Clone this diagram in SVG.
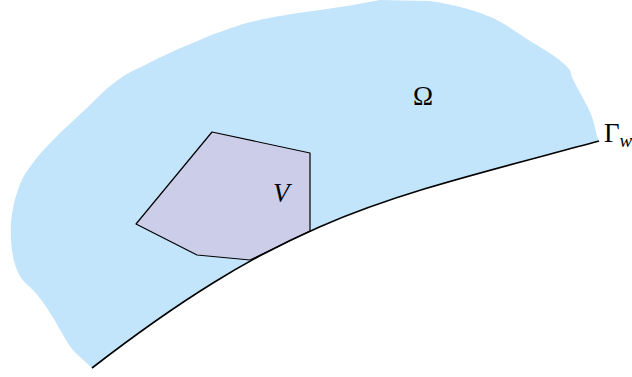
<svg xmlns="http://www.w3.org/2000/svg" width="632" height="377" viewBox="0 0 632 377">
<style>
.lbl{font-family:"Liberation Serif","DejaVu Serif",serif;fill:#000}
.it{font-style:italic}
</style>
<rect width="632" height="377" fill="#fff"/>
<g id="omega-region">
<path d="M92,368 C290,215 380,200 599,141 L597,136 C594,122 591,112 586,104 C580,92 574,82 572,77 L570,70 C560,58 545,50 530,41 C515,31 505,24 493,18 C475,10 455,5 430,1 L380,0 C360,4 340,7 320,10 C290,14 265,18 243,24 C225,30 210,35 200,40 C180,48 160,57 145,65 C135,70 130,72 125,75 C112,84 105,90 100,95 C85,110 72,122 60,133 C48,145 38,155 30,167 C24,175 20,182 18,190 C14,200 12,212 11,222 C10,240 12,258 17,270 C20,278 25,283 30,287 C38,295 44,303 50,313 C56,322 60,330 66,340 C70,347 74,352 80,357 Z" fill="#c3e5fc"/>
<text class="lbl" x="423" y="105" font-size="27" text-anchor="middle">Ω</text>
</g>
<g id="V">
<polygon points="212,132 310,153 310,231 250,260 197,255 136,224" fill="#cccde9" stroke="#000" stroke-width="1.2" stroke-linejoin="round"/>
<text class="lbl it" x="273" y="202" font-size="27">V</text>
</g>
<g id="connectors">
<path d="M92,368 C290,215 380,200 599,141" fill="none" stroke="#000" stroke-width="1.6"/>
</g>
<g id="gamma-w">
<text class="lbl" x="604" y="142" font-size="27">Γ<tspan class="it" font-size="19" dy="5">w</tspan></text>
</g>
</svg>
